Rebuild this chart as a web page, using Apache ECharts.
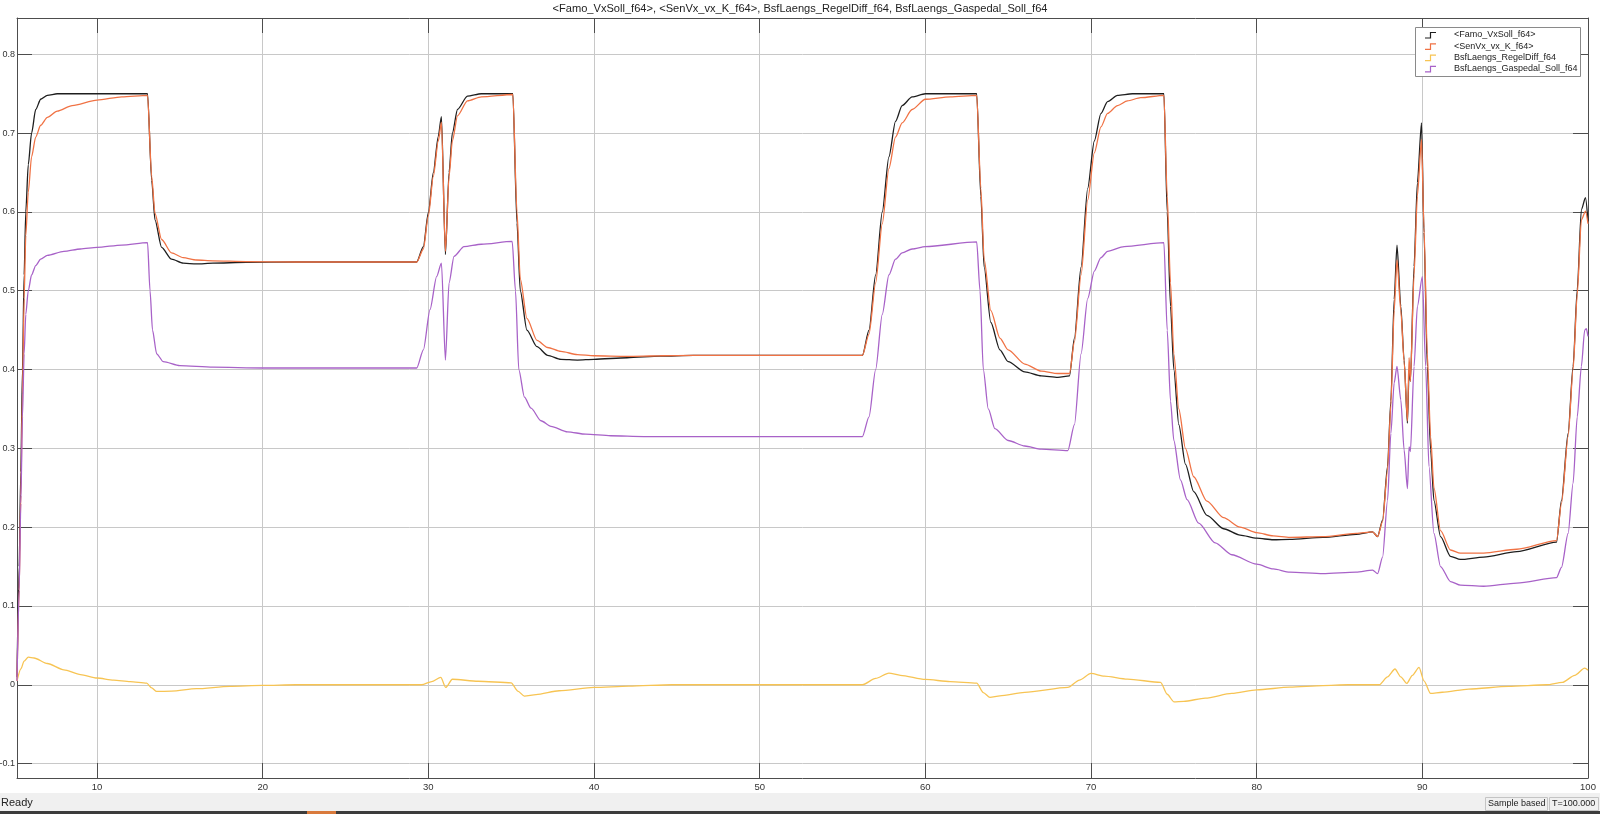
<!DOCTYPE html>
<html>
<head>
<meta charset="utf-8">
<script src="https://cdn.jsdelivr.net/npm/echarts@6/dist/echarts.min.js"></script>
<style>
html,body{margin:0;padding:0;background:#fff;}
#chart{width:1600px;height:814px;}
</style>
</head>
<body>
<div id="chart"></div>
<script>
// ---- data ----
const seriesNames = ['<Famo_VxSoll_f64>', '<SenVx_vx_K_f64>', 'BsfLaengs_RegelDiff_f64', 'BsfLaengs_Gaspedal_Soll_f64'];
const titleText = '<Famo_VxSoll_f64>, <SenVx_vx_K_f64>, BsfLaengs_RegelDiff_f64, BsfLaengs_Gaspedal_Soll_f64';
const xTicks = [10, 20, 30, 40, 50, 60, 70, 80, 90, 100];
const yTicks = [-0.1, 0, 0.1, 0.2, 0.3, 0.4, 0.5, 0.6, 0.7, 0.8];
const xRange = [5.17, 100];
const yRange = [-0.1183, 0.8461];

const famoT = [5.17,5.3,5.4,5.5,5.6,5.7,5.85,6.05,6.3,6.6,7.0,7.6,13.05,13.3,13.5,13.9,14.5,15.2,16,17,19,22,29.3,29.7,30.0,30.3,30.6,30.79,31.03,31.25,31.45,31.76,32.36,33.2,35.1,35.35,35.55,35.95,36.56,37.2,38.0,39.0,40.0,42.0,44.0,46.0,56.2,56.6,57.0,57.4,57.8,58.2,58.6,59.2,60.0,63.1,63.35,63.55,63.95,64.5,65.0,66.0,67.0,68.0,68.7,69.0,69.4,69.8,70.2,70.6,71.0,71.6,72.5,74.4,74.6,74.8,75.0,75.3,75.7,76.2,77.0,78.0,79.0,80.0,81.0,82.0,84.0,86.0,87.0,87.3,87.6,87.9,88.1,88.3,88.47,88.7,88.9,89.1,89.2,89.28,89.5,89.7,89.95,90.1,90.3,90.5,90.7,91.1,91.7,92.3,93.7,95.7,98.1,98.4,98.8,99.1,99.35,99.6,99.85,100];
const famoV = [0.01,0.15,0.27,0.40,0.52,0.60,0.66,0.70,0.73,0.743,0.748,0.75,0.75,0.64,0.59,0.555,0.54,0.535,0.534,0.535,0.536,0.5365,0.5365,0.556,0.599,0.65,0.696,0.721,0.546,0.65,0.70,0.73,0.747,0.75,0.75,0.586,0.50,0.45,0.429,0.418,0.413,0.412,0.413,0.415,0.417,0.418,0.418,0.45,0.52,0.60,0.67,0.715,0.735,0.746,0.75,0.75,0.62,0.53,0.46,0.425,0.41,0.397,0.392,0.39,0.392,0.44,0.53,0.63,0.69,0.725,0.74,0.748,0.75,0.75,0.60,0.48,0.40,0.33,0.28,0.245,0.215,0.198,0.19,0.186,0.184,0.1845,0.187,0.191,0.194,0.188,0.209,0.277,0.36,0.489,0.558,0.48,0.412,0.332,0.40,0.385,0.531,0.637,0.713,0.574,0.404,0.298,0.234,0.188,0.163,0.159,0.162,0.169,0.181,0.234,0.319,0.404,0.501,0.603,0.618,0.588];

const senT = [5.17,5.3,5.4,5.5,5.6,5.7,5.85,6.05,6.3,6.6,7.0,7.6,8.5,10,11.5,13.05,13.3,13.5,13.9,14.5,15.2,16,17,19,22,29.3,29.7,30.0,30.3,30.6,30.79,31.03,31.25,31.45,31.76,32.36,33.2,35.1,35.35,35.55,35.95,36.56,37.2,38.0,39.0,40.0,42.0,44.0,46.0,56.2,56.6,57.0,57.4,57.8,58.2,58.6,59.2,60.0,61.5,63.1,63.35,63.55,63.95,64.5,65.0,66.0,67.0,68.0,68.7,69.0,69.4,69.8,70.2,70.6,71.0,71.6,72.2,73.0,74.4,74.6,74.8,75.0,75.3,75.7,76.2,77.0,78.0,79.0,80.0,81.0,82.0,84.0,86.0,87.0,87.3,87.6,87.9,88.1,88.3,88.47,88.7,88.9,89.1,89.2,89.28,89.5,89.7,89.95,90.1,90.3,90.5,90.7,91.1,91.7,92.3,93.7,95.7,98.1,98.4,98.8,99.1,99.35,99.6,99.85,100];
const senV = [0.005,0.12,0.24,0.37,0.49,0.57,0.625,0.67,0.695,0.71,0.72,0.728,0.735,0.742,0.746,0.748,0.645,0.598,0.565,0.548,0.542,0.539,0.538,0.537,0.5365,0.5365,0.553,0.595,0.645,0.69,0.714,0.55,0.645,0.69,0.722,0.741,0.746,0.749,0.60,0.515,0.465,0.437,0.428,0.423,0.419,0.4175,0.4168,0.4175,0.418,0.418,0.445,0.51,0.585,0.655,0.695,0.713,0.73,0.743,0.746,0.748,0.63,0.54,0.475,0.44,0.425,0.407,0.398,0.395,0.395,0.435,0.52,0.615,0.675,0.708,0.725,0.735,0.741,0.745,0.748,0.62,0.51,0.42,0.35,0.30,0.264,0.233,0.212,0.2,0.193,0.189,0.187,0.188,0.192,0.194,0.188,0.207,0.272,0.355,0.475,0.539,0.475,0.41,0.335,0.415,0.385,0.52,0.62,0.692,0.58,0.42,0.315,0.25,0.1955,0.171,0.167,0.167,0.172,0.183,0.23,0.315,0.40,0.495,0.59,0.601,0.585];

const diffT = [5.17,5.4,5.6,5.85,6.2,7.0,8.0,9.0,10.0,11.0,12.0,13.0,13.3,13.6,14.5,16.0,18.0,20.0,22.0,29.6,30.2,30.75,31.05,31.45,33.0,35.0,35.4,35.8,36.5,37.9,40.0,42.1,44.7,56.2,57.0,57.8,58.5,60.0,61.5,63.1,63.5,63.9,64.5,66.0,68.6,69.3,70.0,70.8,72.2,74.2,74.6,75.0,75.6,76.9,78.5,80.0,82.0,84.0,85.5,87.4,87.9,88.35,88.7,89.06,89.4,89.8,90.1,90.5,91.2,92.8,95.2,97.5,98.45,99.2,99.8,100];
const diffV = [0.005,0.02,0.03,0.035,0.034,0.027,0.019,0.013,0.0086,0.006,0.004,0.002,-0.004,-0.0085,-0.008,-0.005,-0.002,-0.0008,0,0,0.004,0.0093,-0.0034,0.007,0.0045,0.0025,-0.008,-0.0144,-0.0125,-0.0076,-0.0034,-0.0017,0,0,0.008,0.0148,0.012,0.0068,0.004,0.002,-0.01,-0.016,-0.014,-0.0097,-0.0034,0.006,0.0144,0.011,0.0072,0.003,-0.012,-0.0216,-0.021,-0.017,-0.011,-0.0065,-0.003,-0.001,0,0,0.01,0.02,0.01,0.0017,0.012,0.022,0.005,-0.011,-0.0095,-0.0055,-0.002,0,0.003,0.012,0.021,0.0186];

const gasT = [5.17,5.3,5.4,5.5,5.6,5.7,5.85,6.05,6.3,6.6,7.0,8.0,9.0,10.0,11.5,13.05,13.2,13.35,13.6,14.0,15.0,17.0,20.0,29.3,29.7,30.1,30.5,30.79,31.03,31.25,31.55,32.15,33.2,35.06,35.26,35.46,35.8,36.2,36.8,37.4,38.4,39.5,41.0,43.0,56.2,56.6,57.0,57.4,57.8,58.2,58.6,59.2,60.0,63.1,63.3,63.5,63.8,64.2,65.0,66.0,67.0,68.6,69.0,69.4,69.8,70.2,70.6,71.0,72.0,74.4,74.6,74.8,75.0,75.4,75.8,76.5,77.5,78.5,80.0,81.0,82.0,84.0,86.0,87.0,87.3,87.6,87.9,88.1,88.3,88.47,88.7,88.9,89.1,89.2,89.28,89.5,89.7,90.0,90.2,90.4,90.7,91.1,91.7,92.3,93.7,95.7,98.1,98.4,98.8,99.1,99.35,99.6,99.8,99.9,100];
const gasV = [0.005,0.12,0.23,0.34,0.42,0.47,0.50,0.52,0.532,0.54,0.545,0.55,0.553,0.555,0.558,0.561,0.50,0.45,0.42,0.41,0.405,0.403,0.402,0.402,0.425,0.476,0.518,0.535,0.412,0.51,0.5436,0.556,0.559,0.5627,0.50,0.40,0.365,0.351,0.335,0.328,0.321,0.318,0.316,0.315,0.315,0.34,0.40,0.47,0.52,0.54,0.548,0.553,0.556,0.562,0.50,0.40,0.35,0.325,0.31,0.303,0.299,0.297,0.33,0.42,0.49,0.525,0.542,0.55,0.556,0.561,0.45,0.36,0.31,0.26,0.235,0.205,0.18,0.165,0.153,0.147,0.143,0.141,0.143,0.1455,0.141,0.162,0.234,0.319,0.383,0.404,0.3615,0.298,0.249,0.302,0.296,0.404,0.48,0.518,0.404,0.277,0.192,0.15,0.131,0.1265,0.125,0.129,0.136,0.149,0.192,0.256,0.34,0.404,0.45,0.452,0.442];

const colors = ['#1e1e1e', '#f07244', '#f7c453', '#a862c8'];

// ---- chart ----
const FONT = '"Liberation Sans", Arial, sans-serif';
const pair = (t, v) => t.map((x, i) => [x, v[i]]);
const axisColor = '#4d4d4d';
const gridColor = '#c8c8c8';

const chart = echarts.init(document.getElementById('chart'), null, {renderer: 'canvas'});

const baseX = {
  type: 'value', min: xRange[0], max: xRange[1],
  axisLine: {show: true, onZero: false, lineStyle: {color: axisColor, width: 1}},
  axisTick: {show: true, inside: true, length: 15, customValues: xTicks, lineStyle: {color: axisColor, width: 1}},
};
const baseY = {
  type: 'value', min: yRange[0], max: yRange[1],
  axisLine: {show: true, onZero: false, lineStyle: {color: axisColor, width: 1}},
  axisTick: {show: true, inside: true, length: 15, customValues: yTicks, lineStyle: {color: axisColor, width: 1}},
};

// legend box built from the series names/colours (step-shaped icons like the scope legend)
const LG = {x: 1415.5, y: 27.5, w: 165, h: 49, row0: 35, rowGap: 11.3};
const legendGraphics = [
  {type: 'rect', shape: {x: LG.x, y: LG.y, width: LG.w, height: LG.h},
   style: {fill: '#ffffff', stroke: '#8a8a8a', lineWidth: 1}, z: 100}
];
seriesNames.forEach((name, i) => {
  const cy = LG.row0 + i * LG.rowGap;
  legendGraphics.push({
    type: 'polyline', z: 101,
    shape: {points: [[1425, cy + 3], [1430.5, cy + 3], [1430.5, cy - 2.5], [1436, cy - 2.5]]},
    style: {stroke: colors[i], lineWidth: 1.2, fill: null}
  });
  legendGraphics.push({
    type: 'text', z: 101, x: 1454, y: cy,
    style: {text: name, font: '9px ' + FONT, fill: '#222', textVerticalAlign: 'middle'}
  });
});

const option = {
  animation: false,
  backgroundColor: '#ffffff',
  color: colors,
  title: {
    text: titleText, left: 'center', top: 3.5, padding: 0,
    textStyle: {fontFamily: FONT, fontSize: 11.1, fontWeight: 'normal', color: '#222'}
  },
  grid: {left: 17, right: 12, top: 18, bottom: 36, containLabel: false, outerBoundsMode: 'none'},
  xAxis: [
    Object.assign({}, baseX, {
      position: 'bottom',
      axisLabel: {show: true, customValues: xTicks, margin: 4, fontFamily: FONT, fontSize: 9.5, color: '#333',
        formatter: v => String(Math.round(v))},
      splitLine: {show: true, lineStyle: {color: gridColor, width: 1}}
    }),
    Object.assign({}, baseX, {
      position: 'top',
      axisLabel: {show: false},
      splitLine: {show: false}
    })
  ],
  yAxis: [
    Object.assign({}, baseY, {
      position: 'left',
      axisLabel: {show: true, customValues: yTicks, margin: 2, fontFamily: FONT, fontSize: 9, color: '#333',
        formatter: v => String(Math.round(v * 10) / 10)},
      splitLine: {show: true, lineStyle: {color: gridColor, width: 1}}
    }),
    Object.assign({}, baseY, {
      position: 'right',
      axisLabel: {show: false},
      splitLine: {show: false}
    })
  ],
  series: [
    {name: seriesNames[0], data: pair(famoT, famoV)},
    {name: seriesNames[1], data: pair(senT, senV)},
    {name: seriesNames[2], data: pair(diffT, diffV)},
    {name: seriesNames[3], data: pair(gasT, gasV)}
  ].map((s, i) => Object.assign({
    type: 'line', xAxisIndex: 0, yAxisIndex: 0, showSymbol: false,
    smooth: 0.25, smoothMonotone: 'x',
    lineStyle: {width: 1.3, color: colors[i]}, itemStyle: {color: colors[i]}
  }, s)),
  graphic: legendGraphics.concat([
    {type: 'rect', shape: {x: 0, y: 793, width: 1600, height: 18}, style: {fill: '#f0f0f0'}, silent: true},
    {type: 'text', x: 1, y: 803, style: {text: 'Ready', font: '11px ' + FONT, fill: '#222', textVerticalAlign: 'middle'}},
    {type: 'rect', shape: {x: 1485.5, y: 797.5, width: 62, height: 13}, style: {fill: 'none', stroke: '#c4c4c4', lineWidth: 1}},
    {type: 'text', x: 1488, y: 804, style: {text: 'Sample based', font: '9px ' + FONT, fill: '#222', textVerticalAlign: 'middle'}},
    {type: 'rect', shape: {x: 1549.5, y: 797.5, width: 49, height: 13}, style: {fill: 'none', stroke: '#c4c4c4', lineWidth: 1}},
    {type: 'text', x: 1552, y: 804, style: {text: 'T=100.000', font: '9px ' + FONT, fill: '#222', textVerticalAlign: 'middle'}},
    {type: 'rect', shape: {x: 0, y: 811, width: 1600, height: 3}, style: {fill: '#3c3c3c'}},
    {type: 'rect', shape: {x: 307, y: 811, width: 29, height: 3}, style: {fill: '#d97a3c'}}
  ])
};
chart.setOption(option);
</script>
</body>
</html>
